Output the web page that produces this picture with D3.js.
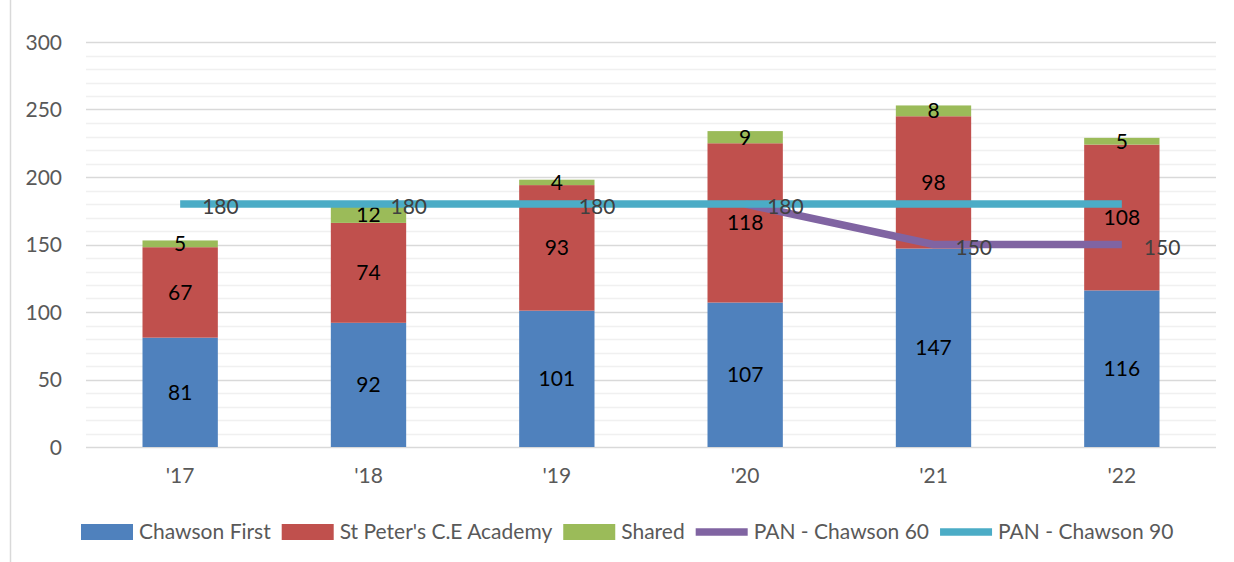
<!DOCTYPE html>
<html>
<head>
<meta charset="utf-8">
<script src="https://cdn.jsdelivr.net/npm/d3@7"></script>
<style>
    body { margin: 0; background: #fff; }
    svg { display: block; font-family: Lato, "Open Sans", sans-serif; }
</style>
</head>
<body>
<svg id="canvas" width="1234" height="562"></svg>
<script>
var years = ["'17", "'18", "'19", "'20", "'21", "'22"];

var chawsonFirst = [81, 92, 101, 107, 147, 116];
var stPeters = [67, 74, 93, 118, 98, 108];
var shared = [5, 12, 4, 9, 8, 5];

var panChawson60 = [null, null, null, 180, 150, 150];
var panChawson90 = [180, 180, 180, 180, 180, 180];

// which points of each line carry a data label
var labels60 = [false, false, false, false, true, true];
var labels90 = [true, true, true, true, false, false];

var yTicks = [0, 50, 100, 150, 200, 250, 300];

var barSeries = [
    { name: "Chawson First", values: chawsonFirst, color: "#4F81BD" },
    { name: "St Peter's C.E Academy", values: stPeters, color: "#C0504D" },
    { name: "Shared", values: shared, color: "#9BBB59" }
];
var lineSeries = [
    { name: "PAN - Chawson 60", values: panChawson60, labels: labels60, color: "#8064A2" },
    { name: "PAN - Chawson 90", values: panChawson90, labels: labels90, color: "#4BACC6" }
];

var svg = d3.select('#canvas');

var plotLeft = 86, plotRight = 1216, plotTop = 42, plotBottom = 447;

var x = d3.scaleBand()
    .domain(years)
    .range([plotLeft, plotRight])
    .paddingInner(0.6)
    .paddingOuter(0.3);

var y = d3.scaleLinear()
    .domain([0, 300])
    .range([plotBottom, plotTop]);

// chart area border (left edge only is visible)
svg.append('line')
    .attr('x1', 10.5).attr('x2', 10.5)
    .attr('y1', 0).attr('y2', 562)
    .style('stroke', '#d9d9d9')
    .style('stroke-width', 1.5);

// minor gridlines
svg.append('g')
    .selectAll('line')
    .data(d3.range(10, 300, 10).filter(function(d) { return d % 50 !== 0; }))
    .enter()
    .append('line')
    .attr('x1', plotLeft).attr('x2', plotRight)
    .attr('y1', function(d) { return Math.round(y(d)) + 0.5; })
    .attr('y2', function(d) { return Math.round(y(d)) + 0.5; })
    .style('stroke', '#f0f0f0')
    .style('stroke-width', 1.5);

// major gridlines
svg.append('g')
    .selectAll('line')
    .data(yTicks)
    .enter()
    .append('line')
    .attr('x1', plotLeft).attr('x2', plotRight)
    .attr('y1', function(d) { return Math.round(y(d)) + 0.5; })
    .attr('y2', function(d) { return Math.round(y(d)) + 0.5; })
    .style('stroke', '#d9d9d9')
    .style('stroke-width', 1.5);

// y axis labels
var yAxis = d3.axisLeft(y)
    .tickValues(yTicks)
    .tickSize(0)
    .tickPadding(0);

svg.append('g')
    .attr('transform', 'translate(62,0)')
    .call(yAxis)
    .call(function(g) { g.select('.domain').remove(); })
    .selectAll('text')
    .attr('dy', '0.35em')
    .style('font-family', 'Lato, sans-serif')
    .style('font-size', '21px')
    .style('fill', '#595959');

// x axis labels
var xAxis = d3.axisBottom(x)
    .tickSize(0)
    .tickPadding(0);

svg.append('g')
    .attr('transform', 'translate(0,' + 468 + ')')
    .call(xAxis)
    .call(function(g) { g.select('.domain').remove(); })
    .selectAll('text')
    .attr('dy', '0.71em')
    .style('font-family', 'Lato, sans-serif')
    .style('font-size', '21px')
    .style('fill', '#595959');

// stacked bars
var rows = years.map(function(yr, i) {
    var r = { year: yr };
    barSeries.forEach(function(s) { r[s.name] = s.values[i]; });
    return r;
});

var stack = d3.stack().keys(barSeries.map(function(s) { return s.name; }));
var layers = stack(rows);

var layer = svg.selectAll('g.layer')
    .data(layers)
    .enter()
    .append('g')
    .attr('class', 'layer')
    .style('fill', function(d, i) { return barSeries[i].color; });

layer.selectAll('rect')
    .data(function(d) { return d; })
    .enter()
    .append('rect')
    .attr('x', function(d) { return x(d.data.year); })
    .attr('width', x.bandwidth())
    .attr('y', function(d) { return y(d[1]); })
    .attr('height', function(d) { return y(d[0]) - y(d[1]); });

layer.selectAll('text')
    .data(function(d) { return d; })
    .enter()
    .append('text')
    .attr('x', function(d) { return x(d.data.year) + x.bandwidth() / 2; })
    .attr('y', function(d) { return (y(d[0]) + y(d[1])) / 2; })
    .attr('dy', '0.35em')
    .attr('text-anchor', 'middle')
    .style('font-size', '21px')
    .style('fill', '#000')
    .text(function(d) { return d[1] - d[0]; });

// PAN lines
var line = d3.line()
    .defined(function(d) { return d.v != null; })
    .x(function(d) { return x(d.year) + x.bandwidth() / 2; })
    .y(function(d) { return y(d.v); });

lineSeries.forEach(function(s) {
    var pts = years.map(function(yr, i) { return { year: yr, v: s.values[i], lab: s.labels[i] }; });

    svg.append('path')
        .datum(pts)
        .attr('d', line)
        .style('fill', 'none')
        .style('stroke', s.color)
        .style('stroke-width', 7.5);

    svg.append('g')
        .selectAll('text')
        .data(pts.filter(function(d) { return d.v != null && d.lab; }))
        .enter()
        .append('text')
        .attr('x', function(d) { return x(d.year) + x.bandwidth() / 2 + 22; })
        .attr('y', function(d) { return y(d.v) + 3; })
        .attr('dy', '0.35em')
        .style('font-size', '21px')
        .style('fill', '#404040')
        .text(function(d) { return d.v; });
});

// legend
var legendItems = barSeries.map(function(s) { return { name: s.name, color: s.color, type: 'bar' }; })
    .concat(lineSeries.map(function(s) { return { name: s.name, color: s.color, type: 'line' }; }));

var legend = svg.append('g');
var lx = 81, ly = 532;

legendItems.forEach(function(d) {
    if (d.type === 'bar') {
        legend.append('rect')
            .attr('x', lx).attr('y', ly - 8)
            .attr('width', 52).attr('height', 16)
            .style('fill', d.color);
    } else {
        legend.append('line')
            .attr('x1', lx).attr('x2', lx + 52)
            .attr('y1', ly).attr('y2', ly)
            .style('stroke', d.color)
            .style('stroke-width', 7.5);
    }
    var t = legend.append('text')
        .attr('x', lx + 58)
        .attr('y', ly)
        .attr('dy', '0.35em')
        .style('font-size', '21px')
        .style('fill', '#595959')
        .text(d.name);
    lx += 58 + t.node().getComputedTextLength() + 11;
});
</script>
</body>
</html>
